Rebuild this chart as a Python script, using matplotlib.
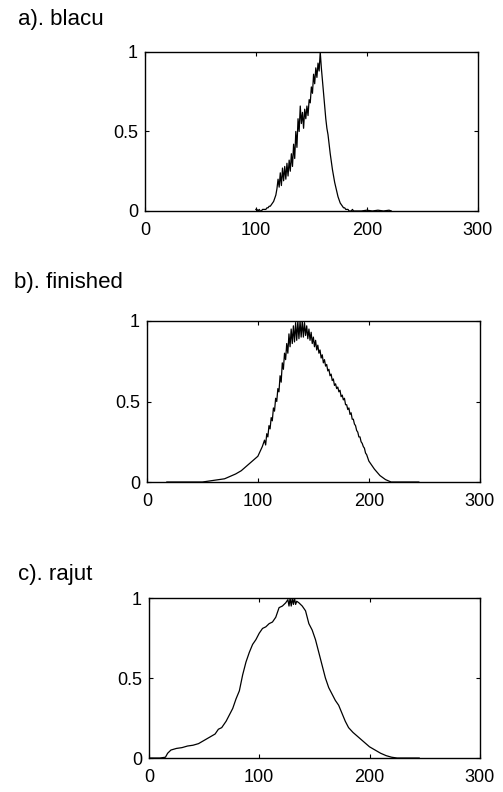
import numpy as np
import matplotlib
matplotlib.use("Agg")
import matplotlib.pyplot as plt

plt.rcParams['font.family'] = ['Liberation Sans', 'DejaVu Sans']

# a). blacu
blacu_x = list(range(100, 191)) + [195, 200, 205, 210, 215, 220, 222]
blacu_y = [0.01, 0.01, 0.0, 0.01, 0.0, 0.0, 0.01, 0.01, 0.01, 0.01,
           0.02, 0.02, 0.03, 0.03, 0.04, 0.05, 0.06, 0.08, 0.10, 0.14,
           0.20, 0.15, 0.24, 0.16, 0.27, 0.19, 0.28, 0.20, 0.30, 0.22,
           0.32, 0.25, 0.36, 0.28, 0.42, 0.33, 0.50, 0.40, 0.58, 0.50,
           0.66, 0.55, 0.62, 0.52, 0.64, 0.58, 0.66, 0.60, 0.70, 0.68,
           0.78, 0.74, 0.86, 0.80, 0.90, 0.84, 0.93, 0.88, 1.00, 0.90,
           0.82, 0.74, 0.66, 0.58, 0.52, 0.48, 0.42, 0.36, 0.31, 0.26,
           0.22, 0.18, 0.15, 0.12, 0.09, 0.07, 0.05, 0.04, 0.03, 0.02,
           0.02, 0.01, 0.01, 0.01, 0.0, 0.0, 0.0, 0.01, 0.0, 0.0, 0.0,
           0.0, 0.005, 0.0, 0.005, 0.0, 0.005, 0.0]

# b). finished
fin_x = ([18, 30, 40, 50, 55, 60, 65, 70, 75, 80, 85, 90, 95, 100, 104]
         + list(range(105, 201))
         + [205, 210, 215, 220, 230, 240, 245])
fin_y = ([0, 0, 0, 0, 0.005, 0.01, 0.015, 0.02, 0.035, 0.05, 0.07, 0.10, 0.13, 0.16, 0.22]
         + [0.24, 0.26, 0.23, 0.30, 0.28, 0.35, 0.33, 0.40, 0.38, 0.46,
            0.44, 0.52, 0.50, 0.58, 0.56, 0.66, 0.62, 0.74, 0.70, 0.80,
            0.76, 0.86, 0.80, 0.92, 0.84, 0.95, 0.86, 0.97, 0.87, 0.99,
            0.88, 1.00, 0.89, 1.00, 0.90, 1.00, 0.90, 0.99, 0.91, 0.97,
            0.89, 0.95, 0.88, 0.93, 0.86, 0.90, 0.84, 0.88, 0.82, 0.85,
            0.80, 0.82, 0.77, 0.79, 0.74, 0.76, 0.72, 0.73, 0.69, 0.70,
            0.66, 0.67, 0.63, 0.64, 0.60, 0.61,
            0.58, 0.59, 0.56, 0.57, 0.53, 0.54, 0.51, 0.52, 0.48, 0.48,
            0.45, 0.46, 0.42, 0.43, 0.39, 0.39, 0.36, 0.35, 0.32, 0.31,
            0.28, 0.28, 0.25, 0.24, 0.22, 0.21, 0.18, 0.17, 0.15, 0.13]
         + [0.08, 0.04, 0.015, 0.0, 0.0, 0.0, 0.0])

# c). rajut
rajut_x = [0, 5, 10, 15, 17, 20, 25, 30, 35, 40, 45, 50, 55, 60, 63, 66, 70, 73, 76, 79,
           82, 85, 88, 91, 94, 97, 100, 103, 106, 109, 112, 115, 118, 121, 124, 126, 127,
           128, 129, 130, 131, 132, 133, 134, 136, 139, 142, 145, 148, 151, 154, 157, 160,
           163, 166, 169, 172, 175, 178, 181, 185, 190, 195, 200, 205, 210, 215, 220, 225,
           235, 245]
rajut_y = [0, 0, 0, 0.005, 0.03, 0.05, 0.06, 0.065, 0.075, 0.08, 0.09, 0.11, 0.13, 0.15,
           0.18, 0.19, 0.23, 0.27, 0.31, 0.37, 0.42, 0.52, 0.60, 0.66, 0.71, 0.74, 0.78,
           0.81, 0.82, 0.84, 0.85, 0.88, 0.94, 0.95, 0.97, 0.99, 0.95, 1.0, 0.95, 1.0, 0.96,
           1.0, 0.96, 0.98, 0.97, 0.95, 0.92, 0.84, 0.80, 0.74, 0.66, 0.58, 0.50, 0.44, 0.40,
           0.36, 0.33, 0.28, 0.23, 0.19, 0.16, 0.13, 0.10, 0.07, 0.05, 0.03, 0.015, 0.005,
           0.0, 0.0, 0.0]

titles = ['a). blacu', 'b). finished', 'c). rajut']
xticks = [0, 100, 200, 300]
yticks = [0, 0.5, 1]
yticklabels = ['0', '0.5', '1']

fig = plt.figure(figsize=(5.03, 7.92), dpi=100)
boxes = [[0.288, 0.7336, 0.662, 0.2008],
         [0.292, 0.3914, 0.662, 0.2033],
         [0.296, 0.0429, 0.658, 0.2020]]
title_pos = [(0.036, 0.976), (0.028, 0.643), (0.036, 0.274)]
series = [(blacu_x, blacu_y), (fin_x, fin_y), (rajut_x, rajut_y)]

for box, (xs, ys), t, tp in zip(boxes, series, titles, title_pos):
    ax = fig.add_axes(box)
    ax.plot(xs, ys, color='black', linewidth=0.9)
    ax.set_xlim(0, 300)
    ax.set_ylim(0, 1)
    ax.set_xticks(xticks)
    ax.set_yticks(yticks)
    ax.set_yticklabels(yticklabels)
    ax.tick_params(direction='in', length=3, width=0.8, top=True, right=True,
                   labelsize=13, colors='black')
    ax.tick_params(axis='x', pad=8)
    ax.tick_params(axis='y', pad=5)
    for s in ax.spines.values():
        s.set_linewidth(1.0)
    fig.text(tp[0], tp[1], t, fontsize=16, va='center', ha='left')

fig.savefig('out.png', dpi=100)
